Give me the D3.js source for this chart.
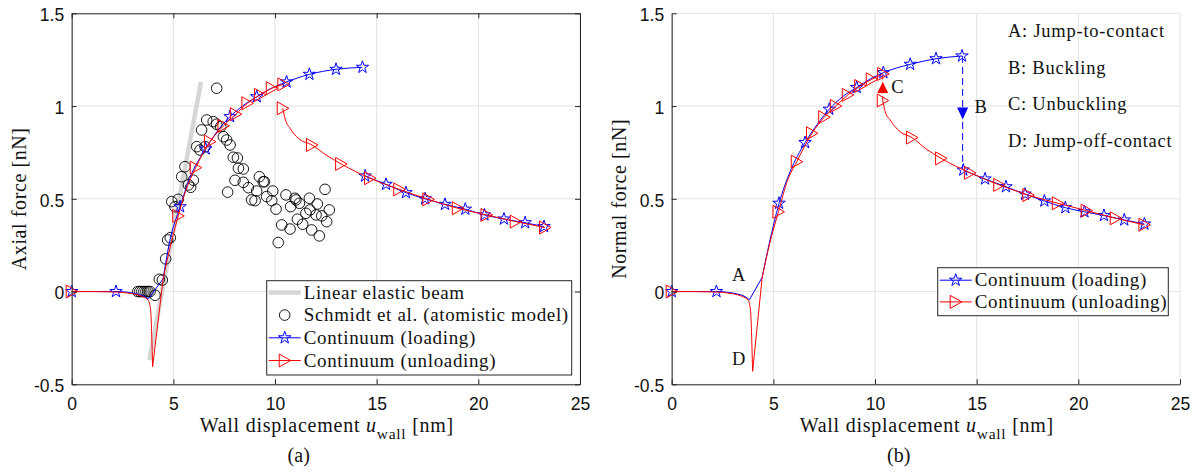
<!DOCTYPE html>
<html>
<head>
<meta charset="utf-8">
<script src="https://cdn.jsdelivr.net/npm/d3@7"></script>
<style>
  body { margin: 0; background: #fff; }
  text { fill: #111; }
</style>
</head>
<body>
<svg id="fig" width="1197" height="474"></svg>
<script>
// ---- data (wall displacement in nm, force in nN) ----
const xTicks = [0, 5, 10, 15, 20, 25]
const yTicks = [-0.5, 0, 0.5, 1, 1.5]

// panel (a): axial force
const beamA = [[3.82, -0.37], [6.36, 1.13]]
const schmidt = [
  [3.25, 0], [3.35, 0], [3.45, 0], [3.55, 0], [3.65, 0], [3.75, 0], [3.85, 0], [4.1, -0.02],
  [4.31, 0.066], [4.46, 0.062], [4.62, 0.176], [4.72, 0.278], [4.85, 0.29],
  [4.92, 0.485], [5.08, 0.457], [5.24, 0.497], [5.41, 0.619], [5.57, 0.673], [5.74, 0.575],
  [5.85, 0.562], [5.98, 0.6], [6.15, 0.781], [6.31, 0.763], [6.39, 0.871], [6.64, 0.925],
  [6.96, 0.916], [7.13, 0.902], [7.33, 0.889], [7.13, 1.096], [6.56, 0.781], [7.62, 0.817],
  [7.46, 0.835], [7.79, 0.79], [7.95, 0.724], [8.15, 0.72], [8.03, 0.6], [8.2, 0.665],
  [8.44, 0.661], [7.67, 0.536], [8.44, 0.589], [8.69, 0.56], [8.85, 0.494], [9.02, 0.49],
  [9.1, 0.542], [9.23, 0.619], [9.42, 0.592], [9.59, 0.512], [9.89, 0.542], [9.84, 0.49],
  [10.05, 0.444], [10.54, 0.521], [10.33, 0.359], [10.16, 0.264], [10.74, 0.337],
  [10.77, 0.458], [10.98, 0.503], [11.2, 0.476], [11.1, 0.39], [11.36, 0.363], [11.52, 0.422],
  [11.69, 0.503], [11.8, 0.332], [12.08, 0.472], [12.02, 0.413], [12.18, 0.3], [12.3, 0.408],
  [12.54, 0.377], [12.67, 0.44], [12.46, 0.551], [11.72, 0.44], [9.48, 0.592], [11.03, 0.494]
]
const loadA_pre = [[0, 0], [1, 0], [2.18, 0], [3, -0.008], [3.4, -0.018], [3.65, -0.03], [3.77, -0.04]]
const loadA_jump = [[3.77, -0.04], [4.5, 0.07]]
const loadA_up = [[4.5, 0.07], [4.8, 0.26], [5.33, 0.457], [5.8, 0.61], [6.59, 0.769], [7.2, 0.87],
  [7.79, 0.943], [8.4, 1.0], [9.1, 1.05], [9.8, 1.095], [10.57, 1.13], [11.69, 1.171], [13.0, 1.198], [14.3, 1.209]]
const loadA_post = [[14.43, 0.623], [15.46, 0.578], [16.44, 0.533], [17.38, 0.5], [18.36, 0.47],
  [19.36, 0.444], [20.3, 0.413], [21.26, 0.391], [22.3, 0.371], [23.23, 0.35]]
const loadA_marks = [[0, 0], [2.18, 0], [5.33, 0.457], [6.59, 0.769], [7.79, 0.943], [9.1, 1.05],
  [10.57, 1.13], [11.69, 1.171], [13.0, 1.198], [14.3, 1.209]].concat(loadA_post)
const unloadA_flat = [[0, 0], [1, 0], [2, -0.002], [3, -0.012], [3.5, -0.028], [3.75, -0.045],
  [3.85, -0.075], [3.9, -0.13], [3.94, -0.25], [3.98, -0.405]]
const unloadA_dip = [[3.98, -0.405], [4.5, 0.07]]
const unloadA_up = [[4.5, 0.07], [4.8, 0.22], [5.24, 0.408], [5.6, 0.54], [6.1, 0.668], [6.8, 0.808],
  [7.46, 0.893], [8.07, 0.956], [8.64, 1.015], [9.26, 1.06], [9.84, 1.096], [10.41, 1.117]]
const unloadA_low = [[10.38, 0.988], [10.5, 0.93], [10.74, 0.88], [11.15, 0.826], [11.82, 0.79],
  [12.5, 0.737], [13.25, 0.688], [14.67, 0.611], [16.11, 0.551], [17.54, 0.497], [18.99, 0.449],
  [20.4, 0.413], [21.84, 0.377], [23.28, 0.345]]
const unloadA_marks = [[0, 0], [5.24, 0.408], [6.1, 0.668], [6.8, 0.808], [7.46, 0.893], [8.07, 0.956],
  [8.64, 1.015], [9.26, 1.06], [9.84, 1.096], [10.41, 1.117], [10.38, 0.988], [11.82, 0.79],
  [13.25, 0.688], [14.67, 0.611], [16.11, 0.551], [17.54, 0.497], [18.99, 0.449], [20.4, 0.413],
  [21.84, 0.377], [23.28, 0.345]]

// panel (b): normal force
const loadB_pre = [[0, 0], [1, 0], [2.2, 0], [3, -0.008], [3.4, -0.018], [3.65, -0.03], [3.82, -0.045]]
const loadB_jump = [[3.82, -0.045], [4.45, 0.077]]
const loadB_up = [[4.45, 0.077], [4.8, 0.26], [5.28, 0.476], [5.8, 0.64], [6.56, 0.803], [7.15, 0.9],
  [7.75, 0.983], [8.4, 1.05], [9.1, 1.1], [9.75, 1.145], [10.41, 1.18], [11.73, 1.225], [13.0, 1.255], [14.28, 1.27]]
const loadB_buckle = [[14.31, 1.27], [14.31, 0.655]]
const loadB_post = [[14.34, 0.655], [15.41, 0.607], [16.44, 0.565], [17.38, 0.525], [18.33, 0.488],
  [19.36, 0.452], [20.3, 0.43], [21.26, 0.41], [22.26, 0.386], [23.25, 0.364]]
const loadB_marks = [[0, 0], [2.2, 0], [5.28, 0.476], [6.56, 0.803], [7.75, 0.983], [9.1, 1.1],
  [10.41, 1.18], [11.73, 1.225], [13.0, 1.255], [14.28, 1.27]].concat(loadB_post)
const unloadB_flat = [[0, 0], [1, 0], [2, -0.002], [3, -0.012], [3.5, -0.028], [3.75, -0.045],
  [3.85, -0.08], [3.9, -0.14], [3.94, -0.27], [3.98, -0.43]]
const unloadB_dip = [[3.98, -0.43], [4.45, 0.077]]
const unloadB_up = [[4.45, 0.077], [4.8, 0.25], [5.25, 0.43], [5.7, 0.6], [6.15, 0.7], [6.9, 0.853],
  [7.5, 0.94], [8.07, 1.0], [8.66, 1.06], [9.27, 1.108], [9.84, 1.144], [10.4, 1.173]]
const unloadB_unbuckle = [[10.38, 1.03], [10.38, 1.17]]
const unloadB_low = [[10.38, 1.03], [10.5, 0.97], [10.74, 0.925], [11.23, 0.862], [11.82, 0.83],
  [12.5, 0.77], [13.25, 0.718], [14.67, 0.64], [16.11, 0.575], [17.54, 0.52], [18.99, 0.476],
  [20.41, 0.436], [21.84, 0.395], [23.25, 0.36]]
const unloadB_marks = [[0, 0], [5.25, 0.43], [6.15, 0.7], [6.9, 0.853], [7.5, 0.94], [8.07, 1.0],
  [8.66, 1.06], [9.27, 1.108], [9.84, 1.144], [10.4, 1.173], [10.38, 1.03], [11.82, 0.83],
  [13.25, 0.718], [14.67, 0.64], [16.11, 0.575], [17.54, 0.52], [18.99, 0.476], [20.41, 0.436],
  [21.84, 0.395], [23.25, 0.36]]

const arrowC = [10.38, 1.10]
const arrowB = [14.31, 0.96]
const letters = [["A", 3.3, 0.09], ["B", 15.2, 1.0], ["C", 11.1, 1.105], ["D", 3.3, -0.36]]
const notes = ["A: Jump-to-contact", "B: Buckling", "C: Unbuckling", "D: Jump-off-contact"]

// ---- drawing ----
const svg = d3.select("#fig")
const plotTop = 13.3, plotBottom = 384.3, plotW = 508.3
const BLUE = "#0000ff", RED = "#ff0000", AX = "#262626"
const sans = "'Liberation Sans', Arial, sans-serif"
const serif = "'Liberation Serif', 'Times New Roman', serif"

const star = d3.symbol(d3.symbolStar).size(48)
const triRight = "M-5.5,-6.5L6,0L-5.5,6.5Z"

function panel(x0, cfg) {
    const x = d3.scaleLinear().domain([0, 25]).range([x0, x0 + plotW])
    const y = d3.scaleLinear().domain([-0.5, 1.5]).range([plotBottom, plotTop])
    const g = svg.append("g")

    // grid
    g.append("g").selectAll("line").data(xTicks).join("line")
        .attr("x1", d => x(d)).attr("x2", d => x(d)).attr("y1", plotTop).attr("y2", plotBottom)
        .attr("stroke", "#e3e3e3")
    g.append("g").selectAll("line").data(yTicks).join("line")
        .attr("y1", d => y(d)).attr("y2", d => y(d)).attr("x1", x0).attr("x2", x0 + plotW)
        .attr("stroke", "#e3e3e3")

    const line = (pts, curve) => d3.line().x(d => x(d[0])).y(d => y(d[1])).curve(curve || d3.curveMonotoneX)(pts)
    const path = (pts, color, opt = {}) => g.append("path").attr("d", line(pts, opt.curve))
        .attr("fill", "none").attr("stroke", color).attr("stroke-width", opt.w || 1)
        .attr("stroke-dasharray", opt.dash || null)

    if (cfg.beam) path(cfg.beam, "#d6d6d6", { w: 4.5, curve: d3.curveLinear })
    if (cfg.circles) g.append("g").selectAll("circle").data(cfg.circles).join("circle")
        .attr("cx", d => x(d[0])).attr("cy", d => y(d[1])).attr("r", 5.3)
        .attr("fill", "none").attr("stroke", "#000").attr("stroke-width", 0.9)

    // loading (blue)
    cfg.load.forEach(s => path(s.pts, BLUE, { curve: s.linear ? d3.curveLinear : null, dash: s.dash }))
    g.append("g").selectAll("path").data(cfg.loadMarks).join("path")
        .attr("d", star).attr("transform", d => `translate(${x(d[0])},${y(d[1])})`)
        .attr("fill", "none").attr("stroke", BLUE)
    if (cfg.arrowB) g.append("path").attr("d", "M-5.5,-6L5.5,-6L0,6Z")
        .attr("transform", `translate(${x(cfg.arrowB[0])},${y(cfg.arrowB[1])})`).attr("fill", BLUE)

    // unloading (red)
    cfg.unload.forEach(s => path(s.pts, RED, { curve: s.linear ? d3.curveLinear : null, dash: s.dash }))
    g.append("g").selectAll("path").data(cfg.unloadMarks).join("path")
        .attr("d", triRight).attr("transform", d => `translate(${x(d[0])},${y(d[1])})`)
        .attr("fill", "none").attr("stroke", RED)
    if (cfg.arrowC) g.append("path").attr("d", "M-5.5,5.5L5.5,5.5L0,-5.5Z")
        .attr("transform", `translate(${x(cfg.arrowC[0])},${y(cfg.arrowC[1])})`).attr("fill", RED)

    // axes, ticks inward
    const fmt = d => String(d)
    g.append("g").attr("transform", `translate(0,${plotBottom})`)
        .call(d3.axisBottom(x).tickValues(xTicks).tickSize(-5).tickSizeOuter(0).tickPadding(13).tickFormat(fmt))
    const ay = g.append("g").attr("transform", `translate(${x0},0)`)
        .call(d3.axisLeft(y).tickValues(yTicks).tickSize(-5).tickSizeOuter(0).tickPadding(7.5).tickFormat(fmt))
    ay.selectAll("text").attr("dy", "0.42em")
    if (cfg.box) {
        g.append("g").attr("transform", `translate(0,${plotTop})`)
            .call(d3.axisTop(x).tickValues(xTicks).tickSize(-5).tickSizeOuter(0).tickFormat(""))
        g.append("g").attr("transform", `translate(${x0 + plotW},0)`)
            .call(d3.axisRight(y).tickValues(yTicks).tickSize(-5).tickSizeOuter(0).tickFormat(""))
    }
    g.selectAll(".domain, .tick line").attr("stroke", AX)
    g.selectAll(".tick text").attr("font-family", sans).attr("font-size", 17.5).attr("fill", "#262626")

    // axis labels
    const xl = g.append("text").attr("x", x0 + plotW / 2 + 1).attr("y", 432)
        .attr("text-anchor", "middle").attr("font-family", serif).attr("font-size", 20)
        .attr("letter-spacing", 0.75)
    xl.append("tspan").text("Wall displacement ")
    xl.append("tspan").attr("font-style", "italic").text("u")
    xl.append("tspan").attr("font-size", 15.5).attr("dy", 7).text("wall")
    xl.append("tspan").attr("dy", -7).text(" [nm]")

    g.append("text").attr("transform", `translate(${x0 - 46},${(plotTop + plotBottom) / 2}) rotate(-90)`)
        .attr("text-anchor", "middle").attr("font-family", serif).attr("font-size", 20)
        .attr("letter-spacing", 0.6).text(cfg.ylabel)

    g.append("text").attr("x", x0 + 227).attr("y", 462).attr("text-anchor", "middle")
        .attr("font-family", serif).attr("font-size", 20).text(cfg.caption)

    // annotations
    if (cfg.letters) {
        g.append("g").selectAll("text").data(cfg.letters).join("text")
            .attr("x", d => x(d[1])).attr("y", d => y(d[2])).attr("dy", "0.35em")
            .attr("text-anchor", "middle").attr("font-family", serif).attr("font-size", 18.5).text(d => d[0])
        g.append("g").selectAll("text").data(cfg.notes).join("text")
            .attr("x", 1008).attr("y", (d, i) => 37 + i * 36.7)
            .attr("font-family", serif).attr("font-size", 18.5).attr("letter-spacing", 0.75).text(d => d)
    }

    // legend
    const L = cfg.legend
    const lg = g.append("g")
    lg.append("rect").attr("x", L.x).attr("y", L.y).attr("width", L.w).attr("height", L.h)
        .attr("fill", "#fff").attr("stroke", AX)
    L.items.forEach((it, i) => {
        const cy = L.y + L.first + i * L.step
        const lx1 = L.x + 2, lx2 = L.x + 34, mx = (lx1 + lx2) / 2
        if (it.kind === "beam") lg.append("line").attr("x1", lx1).attr("x2", lx2).attr("y1", cy).attr("y2", cy)
            .attr("stroke", "#d6d6d6").attr("stroke-width", 4.5)
        if (it.kind === "circle") lg.append("circle").attr("cx", mx).attr("cy", cy).attr("r", 5.3)
            .attr("fill", "none").attr("stroke", "#000").attr("stroke-width", 0.9)
        if (it.kind === "load" || it.kind === "unload") {
            const c = it.kind === "load" ? BLUE : RED
            lg.append("line").attr("x1", lx1).attr("x2", lx2).attr("y1", cy).attr("y2", cy).attr("stroke", c)
            lg.append("path").attr("d", it.kind === "load" ? star : triRight)
                .attr("transform", `translate(${mx},${cy})`).attr("fill", "none").attr("stroke", c)
        }
        lg.append("text").attr("x", L.x + 37).attr("y", cy).attr("dy", "0.33em")
            .attr("font-family", serif).attr("font-size", 19).attr("letter-spacing", 0.65).text(it.label)
    })
}

panel(71.7, {
    beam: beamA, circles: schmidt, box: true,
    load: [{ pts: loadA_pre }, { pts: loadA_jump, linear: true }, { pts: loadA_up }, { pts: loadA_post }],
    loadMarks: loadA_marks,
    unload: [{ pts: unloadA_flat }, { pts: unloadA_dip, linear: true }, { pts: unloadA_up }, { pts: unloadA_low }],
    unloadMarks: unloadA_marks,
    ylabel: "Axial force [nN]", caption: "(a)",
    legend: {
        x: 266.7, y: 280.7, w: 305, h: 94.3, first: 11.7, step: 22.7, items: [
            { kind: "beam", label: "Linear elastic beam" },
            { kind: "circle", label: "Schmidt et al. (atomistic model)" },
            { kind: "load", label: "Continuum (loading)" },
            { kind: "unload", label: "Continuum (unloading)" }]
    }
})

panel(671.7, {
    box: false,
    load: [{ pts: loadB_pre }, { pts: loadB_jump, linear: true }, { pts: loadB_up },
        { pts: loadB_buckle, linear: true, dash: "7,4" }, { pts: loadB_post }],
    loadMarks: loadB_marks, arrowB: arrowB,
    unload: [{ pts: unloadB_flat }, { pts: unloadB_dip, linear: true }, { pts: unloadB_up },
        { pts: unloadB_unbuckle, linear: true, dash: "4,3" }, { pts: unloadB_low }],
    unloadMarks: unloadB_marks, arrowC: arrowC,
    letters: letters, notes: notes,
    ylabel: "Normal force [nN]", caption: "(b)",
    legend: {
        x: 937.7, y: 267.7, w: 230.6, h: 48, first: 12.5, step: 21.7, items: [
            { kind: "load", label: "Continuum (loading)" },
            { kind: "unload", label: "Continuum (unloading)" }]
    }
})
</script>
</body>
</html>
